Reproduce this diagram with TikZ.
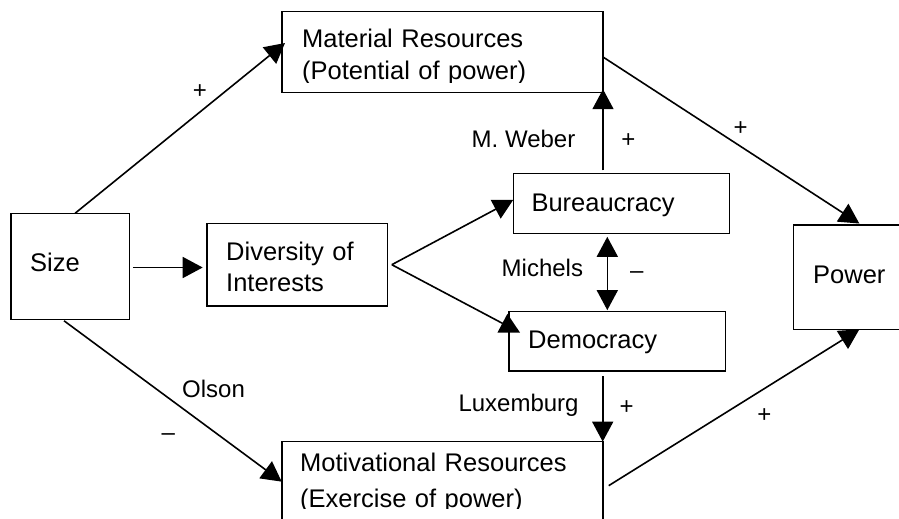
\documentclass[tikz,border=0pt]{standalone}
\usepackage{fontspec}
\setmainfont{Liberation Sans}
\usetikzlibrary{arrows.meta,calc}
\begin{document}
\begin{tikzpicture}[x=1pt,y=-1pt,
  box/.style={draw,line width=1.6pt,inner sep=0pt,outer sep=0pt},
  txt/.style={inner sep=0pt,anchor=base west,align=left,text width=300pt,
              font=\fontsize{25.5}{32.5}\selectfont,
              execute at begin node={\fontsize{25.5}{32.5}\selectfont}},
  lab/.style={inner sep=0pt,anchor=base west,font=\fontsize{24}{28}\selectfont},
  sgn/.style={inner sep=0pt,anchor=base,font=\fontsize{24}{28}\selectfont},
  arr/.style={line width=1.6pt,-{Triangle[length=20pt,width=21pt]}},
  dbl/.style={line width=1.6pt,{Triangle[length=20pt,width=21pt]}-{Triangle[length=20pt,width=21pt]}}]
\useasboundingbox (0,0) rectangle (899,519);
\clip (0,0) rectangle (899,519);

% boxes
\node[box,minimum width=321pt,minimum height=81pt] (mat) at (442.5,52) {};
\node[box,minimum width=118.3pt,minimum height=106pt] (size) at (70.2,266.3) {};
\node[box,minimum width=180.6pt,minimum height=82.7pt] (div) at (297,264.7) {};
\node[box,minimum width=216pt,minimum height=60pt] (bur) at (621.3,203.3) {};
\node[box,minimum width=216.3pt,minimum height=59.3pt] (dem) at (617.2,341.3) {};
\node[box,minimum width=136.7pt,minimum height=104.3pt] (pow) at (861.7,277.2) {};
\node[box,minimum width=321pt,minimum height=118.3pt] (mot) at (442.2,500.8) {};

% box texts
\begin{scope}
  \clip (282,11) rectangle (603,82);
  \node[txt] (matT) at (302,47.3) {Material Resources\\(Potential of power)};
\end{scope}
\node[txt] (sizeT) at (30,271.7) {Size};
\node[txt] (divT) at (226,260) {Diversity of\\[-0.8pt]Interests};
\node[txt] (burT) at (531.3,211.7) {Bureaucracy};
\node[txt] (demT) at (528,348.3) {Democracy};
\node[txt,text width=80pt] (powT) at (813,283.3) {Power};
\begin{scope}
  \clip (282,442) rectangle (603,508.5);
  \node[txt] (motT) at (300,471.7) {Motivational Resources\\[3pt](Exercise of power)};
\end{scope}

% connectors
\draw[arr] ([xshift=64pt]size.north west) -- ([shift={(3pt,-31.5pt)}]mat.north west);
\coordinate (s1) at ([shift={(3.5pt,-1.2pt)}]size.east);
\draw[arr,shorten >=4pt] (s1) -- (s1 -| div.west);
\coordinate (v) at ([xshift=4.5pt]div.east);
\draw[arr] (v) -- ([yshift=3.5pt]bur.west);
\draw[arr] (v) -- ([shift={(11pt,-21pt)}]dem.north west);
\coordinate (b1) at ([shift={(94pt,-3.5pt)}]bur.south west);
\draw[dbl,shorten >=1.5pt] (b1) -- (b1 |- dem.north);
\coordinate (b2) at ([yshift=3pt]bur.north);
\draw[arr] (b2 -| mat.east) -- ([yshift=3.3pt]mat.south east);
\draw[arr] ([yshift=-5pt]mat.east) -- ([shift={(66pt,1.5pt)}]pow.north west);
\coordinate (d1) at ([yshift=-5.5pt]dem.south);
\draw[arr] (d1 -| mot.east) -- (mot.north east);
\draw[arr] ([shift={(6pt,-44pt)}]mot.north east) -- ([xshift=66pt]pow.south west);
\draw[arr] ([shift={(53pt,-1.5pt)}]size.south west) -- ([yshift=-40pt]mot.north west);

% labels
\node[sgn] (p1) at (200,98.5) {+};
\node[lab] (weber) at (471.5,147.3) {M. Weber};
\node[sgn] (p2) at (628.3,147.5) {+};
\node[sgn] (p3) at (740.7,135.2) {+};
\node[lab] (michels) at (501.5,276.7) {Michels};
\node[sgn] (m1) at (636.7,278.3) {–};
\node[lab] (lux) at (458.3,411.7) {Luxemburg};
\node[sgn] (p4) at (626.7,414.2) {+};
\node[sgn] (p5) at (764.3,422.5) {+};
\node[lab] (olson) at (182,397.7) {Olson};
\node[sgn] (m2) at (168.3,440.6) {–};
\end{tikzpicture}
\end{document}
